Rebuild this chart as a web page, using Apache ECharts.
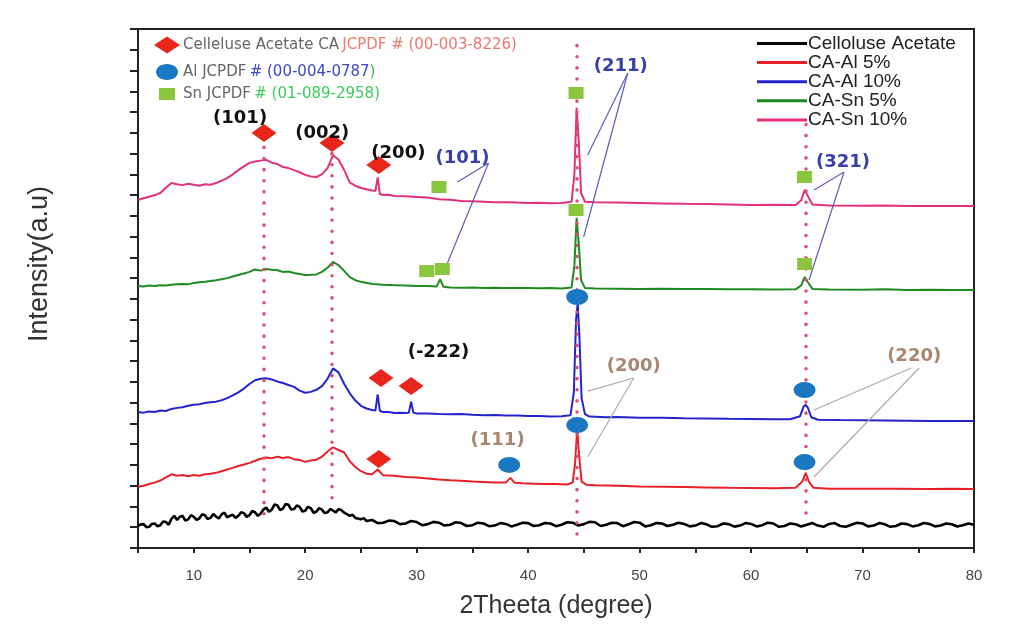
<!DOCTYPE html>
<html><head><meta charset="utf-8">
<script src="https://cdn.jsdelivr.net/npm/echarts@6/dist/echarts.min.js"></script>
<style>html,body{margin:0;padding:0;background:#fff}#c{width:1022px;height:626px}</style>
</head><body><div id="c"></div>
<script>
// ---- data (x = 2θ degree, y = stacked intensity, a.u.) ----
const seriesNames = ['Celloluse Acetate', 'CA-Al 5%', 'CA-Al 10%', 'CA-Sn 5%', 'CA-Sn 10%'];

const caPure = [[5,1.06],[5.25,1.14],[5.5,1.15],[5.75,1.0],[6,1.02],[6.25,1.16],[6.5,1.18],[6.75,1.05],[7,1.10],[7.25,1.28],[7.5,1.25],[7.75,1.12],[8,1.40],[8.25,1.55],[8.5,1.35],[8.75,1.50],[9,1.55],[9.25,1.32],[9.5,1.38],[9.75,1.58],[10,1.50],[10.25,1.36],[10.5,1.42],[10.75,1.62],[11,1.58],[11.25,1.40],[11.5,1.45],[11.75,1.64],[12,1.52],[12.25,1.42],[12.5,1.62],[12.75,1.70],[13,1.48],[13.25,1.55],[13.5,1.60],[13.75,1.45],[14,1.55],[14.25,1.72],[14.5,1.68],[14.75,1.50],[15,1.58],[15.25,1.78],[15.5,1.72],[15.75,1.55],[16,1.65],[16.25,1.85],[16.5,1.95],[16.75,1.75],[17,1.85],[17.25,2.10],[17.5,2.05],[17.75,1.82],[18,1.90],[18.25,2.12],[18.5,2.08],[18.75,1.85],[19,1.88],[19.25,2.05],[19.5,1.98],[19.75,1.76],[20,1.80],[20.25,1.98],[20.5,1.92],[20.75,1.70],[21,1.75],[21.25,1.92],[21.5,1.85],[21.75,1.68],[22,1.72],[22.25,1.88],[22.5,1.80],[22.75,1.72],[23,1.88],[23.25,1.82],[23.5,1.70],[24,1.55],[24.25,1.60],[24.5,1.45],[25,1.38],[25.25,1.44],[25.5,1.30],[26,1.35],[26.5,1.20],[27,1.22],[27.5,1.32],[28,1.30],[28.5,1.15],[29,1.18],[29.5,1.30],[30,1.25],[30.5,1.10],[31,1.15],[31.5,1.26],[32,1.22],[32.5,1.08],[33,1.12],[33.5,1.24],[34,1.20],[34.5,1.06],[35,1.10],[35.5,1.22],[36,1.18],[36.5,1.05],[37,1.08],[37.5,1.20],[38,1.16],[38.5,1.04],[39,1.12],[39.5,1.22],[40,1.20],[40.5,1.06],[41,1.10],[41.5,1.20],[42,1.18],[42.5,1.05],[43,1.12],[43.5,1.24],[44,1.22],[44.5,1.08],[45,1.15],[45.5,1.26],[46,1.24],[46.5,1.06],[47,1.12],[47.5,1.22],[48,1.20],[48.5,1.05],[49,1.14],[49.5,1.25],[50,1.22],[50.5,1.04],[51,1.10],[51.5,1.20],[52,1.18],[52.5,1.06],[53,1.12],[53.5,1.22],[54,1.16],[54.5,1.04],[55,1.08],[55.5,1.20],[56,1.14],[56.5,1.02],[57,1.05],[57.5,1.18],[58,1.15],[58.5,1.03],[59,1.08],[59.5,1.20],[60,1.16],[60.5,1.04],[61,1.10],[61.5,1.22],[62,1.18],[62.5,1.02],[63,1.06],[63.5,1.18],[64,1.14],[64.5,1.04],[65,1.12],[65.5,1.20],[66,1.08],[66.5,1.02],[67,1.16],[67.5,1.20],[68,1.06],[68.5,1.02],[69,1.12],[69.5,1.22],[70,1.18],[70.5,1.04],[71,1.08],[71.5,1.20],[72,1.14],[72.5,1.02],[73,1.06],[73.5,1.18],[74,1.15],[74.5,1.04],[75,1.10],[75.5,1.20],[76,1.16],[76.5,1.04],[77,1.08],[77.5,1.18],[78,1.14],[78.5,1.04],[79,1.10],[79.5,1.18],[80,1.12]];

const caAl5 = [[5,2.95],[5.5,3.0],[6,3.08],[6.5,3.15],[7,3.25],[7.5,3.40],[8,3.55],[8.5,3.48],[9,3.52],[9.5,3.46],[10,3.52],[10.5,3.48],[11,3.55],[11.5,3.58],[12,3.62],[12.5,3.70],[13,3.78],[13.5,3.86],[14,3.95],[14.5,4.02],[15,4.10],[15.5,4.20],[16,4.30],[16.5,4.36],[17,4.32],[17.5,4.40],[18,4.34],[18.5,4.38],[19,4.28],[19.5,4.24],[20,4.15],[20.5,4.22],[21,4.25],[21.5,4.40],[22,4.65],[22.5,4.85],[23,4.72],[23.5,4.60],[24,4.18],[24.5,3.90],[25,3.70],[25.5,3.58],[26,3.55],[26.5,3.78],[27,3.50],[28,3.48],[29,3.42],[30,3.40],[31,3.35],[32,3.30],[33,3.26],[34,3.24],[35,3.20],[36,3.18],[37,3.16],[38,3.15],[38.4,3.38],[38.8,3.14],[39.5,3.12],[40.5,3.10],[41.5,3.08],[42.5,3.08],[43.5,3.06],[44.0,3.15],[44.2,4.0],[44.4,5.7],[44.6,4.3],[44.8,3.2],[45.2,3.05],[46,3.02],[48,3.00],[50,2.96],[52,2.95],[54,2.94],[56,2.92],[58,2.90],[60,2.89],[62,2.88],[64,2.90],[64.6,3.20],[64.9,3.62],[65.2,3.18],[65.6,2.90],[67,2.86],[70,2.85],[73,2.86],[76,2.84],[78,2.85],[80,2.84]];

const caAl10 = [[5,6.55],[5.5,6.52],[6,6.58],[6.5,6.55],[7,6.62],[7.5,6.60],[8,6.70],[8.5,6.75],[9,6.78],[9.5,6.85],[10,6.90],[10.5,6.92],[11,6.98],[11.5,7.02],[12,7.05],[12.5,7.12],[13,7.22],[13.5,7.35],[14,7.50],[14.5,7.68],[15,7.90],[15.5,8.08],[16,8.15],[16.5,8.18],[17,8.12],[17.5,8.02],[18,7.95],[18.5,7.85],[19,7.76],[19.5,7.58],[20,7.48],[20.5,7.52],[21,7.62],[21.5,7.80],[22,8.15],[22.5,8.65],[23,8.45],[23.5,7.90],[24,7.45],[24.5,7.10],[25,6.85],[25.5,6.72],[26,6.65],[26.3,6.62],[26.5,7.40],[26.7,6.60],[27,6.55],[27.5,6.55],[28,6.50],[28.5,6.52],[29,6.50],[29.3,6.52],[29.5,7.05],[29.7,6.52],[30,6.48],[31,6.48],[32,6.45],[33,6.44],[34,6.45],[35,6.42],[36,6.40],[37,6.41],[38,6.38],[39,6.38],[40,6.36],[41,6.36],[42,6.34],[43,6.35],[43.8,6.40],[44.1,7.5],[44.3,11.0],[44.45,11.8],[44.6,10.2],[44.8,7.2],[45.1,6.45],[45.5,6.33],[46,6.32],[47,6.30],[48,6.31],[50,6.28],[52,6.27],[54,6.25],[56,6.24],[58,6.22],[60,6.21],[62,6.20],[63.5,6.20],[64.4,6.35],[64.7,6.80],[64.9,6.90],[65.1,6.75],[65.4,6.30],[66,6.18],[68,6.16],[70,6.15],[72,6.14],[74,6.13],[76,6.12],[78,6.12],[80,6.12]];

const caSn5 = [[5,12.62],[5.5,12.60],[6,12.64],[6.5,12.62],[7,12.66],[7.5,12.64],[8,12.68],[8.5,12.70],[9,12.72],[9.5,12.70],[10,12.77],[10.5,12.80],[11,12.82],[11.5,12.86],[12,12.90],[12.5,12.95],[13,13.00],[13.5,13.08],[14,13.15],[14.5,13.22],[15,13.30],[15.5,13.42],[16,13.36],[16.5,13.44],[17,13.40],[17.5,13.38],[18,13.30],[18.5,13.32],[19,13.25],[19.5,13.20],[20,13.15],[20.5,13.16],[21,13.18],[21.5,13.30],[22,13.50],[22.5,13.78],[23,13.62],[23.5,13.35],[24,13.05],[24.5,12.90],[25,12.82],[26,12.72],[27,12.68],[28,12.66],[29,12.64],[30,12.62],[31,12.62],[31.8,12.60],[32.1,12.95],[32.4,12.58],[33,12.55],[34,12.54],[35,12.55],[36,12.53],[37,12.54],[38,12.52],[39,12.53],[40,12.52],[41,12.51],[42,12.52],[43,12.50],[43.9,12.55],[44.15,13.6],[44.35,15.9],[44.55,14.6],[44.75,12.9],[45.1,12.52],[46,12.50],[48,12.49],[50,12.48],[52,12.49],[54,12.47],[56,12.48],[58,12.46],[60,12.46],[62,12.45],[64,12.46],[64.5,12.65],[64.8,13.05],[65.1,12.80],[65.5,12.48],[67,12.45],[70,12.44],[72,12.46],[74,12.43],[76,12.44],[78,12.43],[80,12.43]];

const caSn10 = [[5,16.76],[5.5,16.85],[6,16.92],[6.5,17.00],[7,17.10],[7.5,17.35],[8,17.58],[8.5,17.52],[9,17.48],[9.5,17.55],[10,17.50],[10.5,17.45],[11,17.52],[11.5,17.50],[12,17.58],[12.5,17.70],[13,17.82],[13.5,18.00],[14,18.20],[14.5,18.38],[15,18.55],[15.5,18.62],[16,18.66],[16.5,18.70],[17,18.56],[17.5,18.50],[18,18.35],[18.5,18.30],[19,18.20],[19.5,18.10],[20,17.97],[20.5,17.90],[21,17.87],[21.5,18.00],[22,18.30],[22.5,18.92],[23,18.70],[23.5,18.20],[24,17.60],[24.5,17.45],[25,17.34],[25.5,17.28],[26,17.22],[26.3,17.20],[26.5,17.85],[26.7,17.05],[27,17.00],[27.5,17.02],[28,16.96],[29,16.94],[30,16.91],[31,16.88],[32,16.80],[33,16.78],[34,16.72],[35,16.70],[36,16.68],[37,16.66],[38,16.65],[39,16.64],[40,16.62],[41,16.63],[42,16.61],[43,16.62],[43.9,16.68],[44.15,18.0],[44.35,21.2],[44.55,19.5],[44.75,17.1],[45.1,16.68],[46,16.66],[48,16.64],[50,16.62],[52,16.60],[54,16.58],[56,16.57],[58,16.55],[60,16.52],[62,16.53],[64,16.52],[64.5,16.75],[64.8,17.24],[65.1,16.95],[65.5,16.55],[67,16.50],[70,16.49],[72,16.50],[74,16.48],[76,16.47],[78,16.48],[80,16.47]];

// reference peak positions (dotted guides): [x, yTop, yBottom]
const refPeaks = [[16.3,19.3,1.35],[22.4,19.0,2.3],[44.4,24.2,0.55],[64.9,20.4,1.2]];

// phase markers [x, y]
const caMarks = [[16.3,19.99],[22.4,19.51],[26.6,18.45],[26.8,8.19],[29.5,7.80],[26.6,4.29]];
const alMarks = [[38.3,4.0],[44.4,12.09],[44.4,5.92],[64.8,7.61],[64.8,4.14]];
const snMarks = [[32.0,17.39],[30.9,13.34],[32.3,13.44],[44.3,21.92],[44.3,16.28],[64.8,17.87],[64.8,13.68]];

// hkl labels [x, y, text]
const caLabels = [[14.16,20.71,'(101)'],[21.53,19.99,'(002)'],[28.36,19.03,'(200)'],[31.95,9.44,'(-222)']];
const snLabels = [[34.11,18.79,'(101)'],[48.31,23.22,'(211)'],[68.25,18.59,'(321)']];
const alLabels = [[49.47,8.77,'(200)'],[74.63,9.25,'(220)'],[37.26,5.2,'(111)']];

// leader lines [[x1,y1],[x2,y2]]
const snLeaders = [[[36.45,18.55],[33.66,17.63]],[[36.45,18.55],[32.58,13.49]],[[48.94,22.88],[45.34,18.93]],[[48.94,22.88],[44.98,14.98]],[[68.34,18.11],[65.65,17.24]],[[68.34,18.11],[65.2,12.91]]];
const alLeaders = [[[49.47,8.19],[45.34,7.56]],[[49.47,8.19],[45.34,4.38]],[[74.36,8.67],[65.65,6.65]],[[75.08,8.67],[65.65,3.42]]];

const xTickLabels = [10,20,30,40,50,60,70,80];

// ---- chart ----
const colors = ['#000000','#e8202a','#2424cc','#1f8a22','#e2307c'];
const traces = [caPure, caAl5, caAl10, caSn5, caSn10];
const chart = echarts.init(document.getElementById('c'));

const lineSeries = traces.map((d,i)=>({
  name: seriesNames[i], type:'line', data:d, symbol:'none', showSymbol:false, z:2,
  lineStyle:{color:colors[i], width: i===0?2.6:2}, itemStyle:{color:colors[i]}
}));

const labelSeries = (arr, color) => ({
  type:'scatter', data: arr.map(a=>({value:[a[0],a[1]], name:a[2]})), symbolSize:2, z:6,
  itemStyle:{color:'rgba(0,0,0,0)'}, silent:true,
  label:{show:true, position:'inside', formatter:p=>p.name, color:color, opacity:1, textBorderWidth:0,
    fontFamily:'DejaVu Sans', fontWeight:'bold', fontSize:18}
});

chart.setOption({
  animation:false,
  backgroundColor:'#fff',
  grid:{left:138, right:48, top:29, bottom:78, show:true, borderColor:'#222', borderWidth:2},
  legend:{
    data: seriesNames.map(n=>({name:n, icon:'rect'})), orient:'vertical', left:752, top:29, itemWidth:50, itemHeight:3, itemGap:0.1,
    textStyle:{fontFamily:'Liberation Sans', fontSize:19, color:'#222', padding:[0,0,0,-4]},
    selectedMode:false
  },
  xAxis:{
    type:'value', min:5, max:80, interval:5,
    axisLine:{lineStyle:{color:'#222', width:2}},
    axisTick:{length:5, lineStyle:{color:'#222', width:2}},
    splitLine:{show:false},
    axisLabel:{formatter:v=> xTickLabels.includes(v) ? String(v) : '', fontSize:15, color:'#444', fontFamily:'Liberation Sans', margin:20},
    name:'2Theeta (degree)', nameLocation:'middle', nameGap:46,
    nameTextStyle:{fontSize:25, color:'#333', fontFamily:'Liberation Sans', verticalAlign:'top'}
  },
  yAxis:{
    type:'value', min:0, max:25, interval:1,
    axisLine:{show:true, lineStyle:{color:'#222', width:2}},
    axisTick:{show:true, length:8, lineStyle:{color:'#222', width:2}},
    axisLabel:{show:false}, splitLine:{show:false}
  },
  graphic:[
    {type:'text', x:40, y:264, rotation:Math.PI/2, style:{text:'Intensity(a.u)', font:'27px "Liberation Sans"', fill:'#333', align:'center', verticalAlign:'middle'}},
    {type:'polygon', shape:{points:[[154,45],[167,36.5],[180,45],[167,53.5]]}, style:{fill:'#e8261c'}},
    {type:'ellipse', shape:{cx:167, cy:72, rx:11, ry:8}, style:{fill:'#1a78c2'}},
    {type:'rect', shape:{x:159, y:88, width:16, height:12}, style:{fill:'#8cc63f'}},
    {type:'text', x:183, y:45, style:{text:'{a|Celleluse Acetate CA} {b|JCPDF # (00-003-8226)}', verticalAlign:'middle',
      rich:{a:{fill:'#666', fontSize:15, fontFamily:'DejaVu Sans'}, b:{fill:'#e87a70', fontSize:15, fontFamily:'DejaVu Sans'}}}},
    {type:'text', x:183, y:72, style:{text:'{a|Al JCPDF} {b|# (00-004-0787}{c|)}', verticalAlign:'middle',
      rich:{a:{fill:'#666', fontSize:15, fontFamily:'DejaVu Sans'}, b:{fill:'#3d48c8', fontSize:15, fontFamily:'DejaVu Sans'}, c:{fill:'#40b840', fontSize:15, fontFamily:'DejaVu Sans'}}}},
    {type:'text', x:183, y:94, style:{text:'{a|Sn JCPDF} {b|# (01-089-2958)}', verticalAlign:'middle',
      rich:{a:{fill:'#666', fontSize:15, fontFamily:'DejaVu Sans'}, b:{fill:'#3ccc5a', fontSize:15, fontFamily:'DejaVu Sans'}}}}
  ],
  series:[
    ...lineSeries,
    {type:'lines', coordinateSystem:'cartesian2d', z:3, silent:true,
      data: refPeaks.map(p=>({coords:[[p[0],p[1]],[p[0],p[2]]]})),
      lineStyle:{color:'#d9506a', width:3.5, type:[0.1,11], cap:'round', opacity:1}},
    {type:'lines', coordinateSystem:'cartesian2d', z:4, silent:true,
      data: snLeaders.map(c=>({coords:c})), lineStyle:{color:'#5a60b8', width:1.2, opacity:1}},
    {type:'lines', coordinateSystem:'cartesian2d', z:4, silent:true,
      data: alLeaders.map(c=>({coords:c})), lineStyle:{color:'#b5aaa2', width:1.2, opacity:1}},
    {type:'scatter', data:caMarks, symbol:'diamond', symbolSize:[25,18], z:5, itemStyle:{color:'#e8261c', opacity:1}},
    {type:'scatter', data:alMarks, symbol:'circle', symbolSize:[22,16], z:5, itemStyle:{color:'#1a78c2', opacity:1}},
    {type:'scatter', data:snMarks, symbol:'rect', symbolSize:[15,12], z:5, itemStyle:{color:'#8cc63f', opacity:1}},
    labelSeries(caLabels, '#111111'),
    labelSeries(snLabels, '#3640a8'),
    labelSeries(alLabels, '#a8866f')
  ]
});
</script></body></html>
